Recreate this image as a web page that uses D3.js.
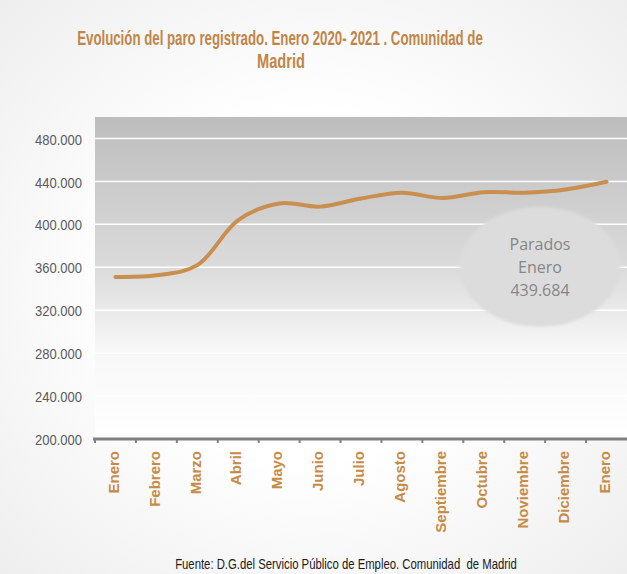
<!DOCTYPE html>
<html>
<head>
<meta charset="utf-8">
<script src="https://cdnjs.cloudflare.com/ajax/libs/d3/7.8.5/d3.min.js"></script>
<style>
  body { margin: 0; background: #fff; }
  svg { display: block; }
</style>
</head>
<body>
<svg id="chart"></svg>
<script>
(function () {
  // Datos: paro registrado, Comunidad de Madrid
  var meses = ["Enero", "Febrero", "Marzo", "Abril", "Mayo", "Junio", "Julio",
    "Agosto", "Septiembre", "Octubre", "Noviembre", "Diciembre", "Enero"];
  var parados = [351000, 352500, 362000, 404000, 419500, 416500, 424000,
    429500, 424500, 430000, 429500, 432500, 439684];
  var yTicks = [200000, 240000, 280000, 320000, 360000, 400000, 440000, 480000];

  var W = 627, H = 574;
  var margin = {top: 117, right: 0, bottom: 135, left: 95};
  var width = W - margin.left - margin.right,
      height = H - margin.top - margin.bottom;

  var narrow = '"Liberation Sans Narrow", "Arial Narrow", "Liberation Sans", sans-serif';
  var fmt = function (d) { return d3.format(',')(d).replace(/,/g, '.'); };

  // estrecha un texto horizontalmente hasta un ancho dado (no hay Arial Narrow)
  function condense(sel, target) {
    sel.each(function () {
      var node = d3.select(this);
      var w = this.getComputedTextLength();
      var sx = Math.min(1, target / w);
      var ax = +node.attr('x') || 0;
      node.attr('transform', 'translate(' + ax + ',0) scale(' + sx + ',1) translate(' + (-ax) + ',0)');
    });
  }

  var svg = d3.select('#chart')
    .attr('width', W)
    .attr('height', H);

  var defs = svg.append('defs');
  var bg = defs.append('radialGradient').attr('id', 'bgGrad')
    .attr('cx', '50%').attr('cy', '50%').attr('r', '75%');
  bg.append('stop').attr('offset', '40%').attr('stop-color', '#ffffff');
  bg.append('stop').attr('offset', '100%').attr('stop-color', '#ececec');

  var pg = defs.append('linearGradient').attr('id', 'plotGrad')
    .attr('x1', 0).attr('y1', 0).attr('x2', 0).attr('y2', 1);
  pg.append('stop').attr('offset', '0%').attr('stop-color', '#bdbdbd');
  pg.append('stop').attr('offset', '48%').attr('stop-color', '#dcdcdc');
  pg.append('stop').attr('offset', '72%').attr('stop-color', '#f7f7f7');
  pg.append('stop').attr('offset', '100%').attr('stop-color', '#ffffff');

  var blur = defs.append('filter').attr('id', 'soft')
    .attr('x', '-20%').attr('y', '-20%').attr('width', '140%').attr('height', '140%');
  blur.append('feGaussianBlur').attr('stdDeviation', 1.5);

  svg.append('rect')
    .attr('width', W).attr('height', H)
    .attr('fill', 'url(#bgGrad)');

  // Titulo
  svg.append('text')
    .attr('x', 280).attr('y', 45)
    .attr('text-anchor', 'middle')
    .attr('fill', '#c08648')
    .style('font-family', narrow)
    .style('font-weight', 'bold')
    .style('font-size', '20px')
    .text('Evolución del paro registrado. Enero 2020- 2021 . Comunidad de')
    .call(condense, 406);
  svg.append('text')
    .attr('x', 281).attr('y', 68)
    .attr('text-anchor', 'middle')
    .attr('fill', '#c08648')
    .style('font-family', narrow)
    .style('font-weight', 'bold')
    .style('font-size', '20px')
    .text('Madrid')
    .call(condense, 48);

  var chart = svg.append('g')
    .attr('transform', 'translate(' + margin.left + ',' + margin.top + ')');

  var x = d3.scaleBand()
    .domain(d3.range(meses.length))
    .range([0, width]);

  var y = d3.scaleLinear()
    .domain([200000, 500000])
    .range([height, 0]);

  chart.append('rect')
    .attr('width', width).attr('height', height)
    .attr('fill', 'url(#plotGrad)');

  // Lineas de cuadricula
  chart.append('g')
    .selectAll('line')
    .data(yTicks.slice(1))
    .enter().append('line')
    .attr('x1', 0).attr('x2', width)
    .attr('y1', function (d) { return y(d); })
    .attr('y2', function (d) { return y(d); })
    .attr('stroke', '#ffffff')
    .attr('stroke-width', 1.5);

  // Eje Y
  var yAxis = d3.axisLeft(y)
    .tickValues(yTicks)
    .tickSize(0)
    .tickPadding(13)
    .tickFormat(fmt);

  var gy = chart.append('g').call(yAxis);
  gy.select('.domain').remove();
  gy.selectAll('text')
    .attr('fill', '#5a5a5a')
    .attr('dy', '0.4em')
    .style('font-family', narrow)
    .style('font-size', '14px')
    .call(condense, 47);

  // Eje X
  var xAxis = d3.axisBottom(x)
    .tickSize(0)
    .tickFormat(function (i) { return meses[i]; });

  var gx = chart.append('g')
    .attr('transform', 'translate(0,' + height + ')')
    .call(xAxis);
  gx.select('.domain').remove();
  gx.append('line')
    .attr('x1', -2).attr('x2', width)
    .attr('stroke', '#808080')
    .attr('stroke-width', 3);
  gx.selectAll('.boundary')
    .data(d3.range(meses.length))
    .enter().append('line')
    .attr('class', 'boundary')
    .attr('x1', function (i) { return x(i); })
    .attr('x2', function (i) { return x(i); })
    .attr('y1', 0).attr('y2', 4)
    .attr('stroke', '#808080')
    .attr('stroke-width', 2);
  gx.selectAll('.tick text')
    .attr('transform', 'rotate(-90)')
    .attr('text-anchor', 'end')
    .attr('x', -12)
    .attr('y', -2)
    .attr('dy', '0.35em')
    .attr('fill', '#c68b46')
    .style('font-family', '"Liberation Sans", Arial, sans-serif')
    .style('font-weight', 'bold')
    .style('font-size', '15px');

  // Linea de datos
  var line = d3.line()
    .x(function (d, i) { return x(i) + x.bandwidth() / 2; })
    .y(function (d) { return y(d); })
    .curve(d3.curveCatmullRom.alpha(0.5));

  chart.append('path')
    .datum(parados)
    .attr('d', line)
    .attr('fill', 'none')
    .attr('stroke', '#c98f4f')
    .attr('stroke-width', 4)
    .attr('stroke-linecap', 'round');

  // Burbuja de valor final
  var bx = 445, by = y(360500);
  chart.append('ellipse')
    .attr('cx', bx).attr('cy', by)
    .attr('rx', 80).attr('ry', 60)
    .attr('fill', '#dcdcdc')
    .attr('filter', 'url(#soft)');
  var bubble = chart.append('text')
    .attr('text-anchor', 'middle')
    .attr('fill', '#868686')
    .style('font-family', '"Open Sans", "Liberation Sans", sans-serif')
    .style('font-size', '16px');
  ['Parados', 'Enero', fmt(parados[parados.length - 1])]
    .forEach(function (t, i) {
      bubble.append('tspan')
        .attr('x', bx)
        .attr('y', by - 17 + i * 23)
        .text(t);
    });

  // Fuente
  svg.append('text')
    .attr('x', 346).attr('y', 569)
    .attr('text-anchor', 'middle')
    .attr('fill', '#1a1a1a')
    .style('font-family', narrow)
    .style('font-size', '15px')
    .style('white-space', 'pre')
    .text('Fuente: D.G.del Servicio Público de Empleo. Comunidad  de Madrid')
    .call(condense, 342);
})();
</script>
</body>
</html>
